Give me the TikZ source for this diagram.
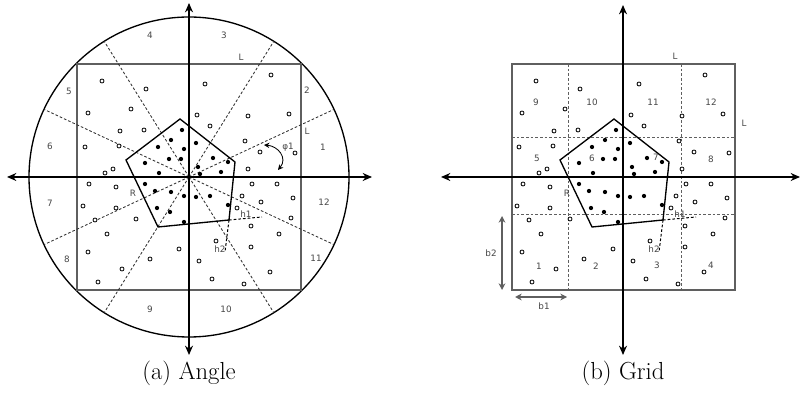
\documentclass[tikz,border=0pt]{standalone}
\usepackage{fontspec}
\newfontfamily\labelfont{DejaVu Sans}
\usepackage{tikz}
\usetikzlibrary{arrows.meta, calc}
\definecolor{frameGray}{RGB}{95, 95, 95}
\definecolor{labelGray}{RGB}{70, 70, 70}
\definecolor{dashGray}{RGB}{50, 50, 50}

% sample points (pixel positions in the left panel)
\newcommand{\emptyPts}{102/81, 146/89, 205/84, 271/75, 88/113, 131/109, 197/115,
  248/116, 289/114, 120/131, 144/130, 210/126, 85/147, 119/146, 245/141, 260/152,
  295/153, 105/173, 113/169, 248/169, 89/184, 116/187, 252/184, 277/184, 83/206,
  116/208, 242/196, 261/202, 293/198, 237/208, 95/220, 136/219, 291/218, 251/226,
  107/234, 279/234, 216/241, 251/247, 88/252, 179/249, 150/259, 199/261, 122/269,
  270/272, 98/282, 212/279, 244/284}
\newcommand{\fullPts}{182/130, 171/140, 158/147, 184/149, 196/143, 169/159, 181/159,
  145/163, 213/158, 228/162, 198/167, 159/173, 200/174, 221/172, 145/184, 155/191,
  171/192, 184/196, 196/197, 210/196, 228/205, 157/208, 170/212, 184/222}

% region, distances and points, shared by both panels
\newcommand{\sampleRegion}[1]{%
  \draw[region] (180,119) -- (235,162) -- (229,220) -- (158,227) -- (126,160) -- cycle;
  \coordinate (#1v) at (229,220);
  \coordinate (#1h1) at (262,217);
  \coordinate (#1h2) at (225,252);
  \draw[dist] (#1v) -- (#1h1);
  \draw[dist] (#1v) -- (#1h2);
  \foreach \px/\py in \emptyPts {\draw[emptypt] (\px,\py) circle (1.5pt);}
  \foreach \px/\py in \fullPts {\fill[fullpt] (\px,\py) circle (1.6pt);}
  \node[lbl] (#1R) at (133,193) {R};
  \node[lbl] (#1hA) at (246,214) {h1};
  \node[lbl] (#1hB) at (220,249) {h2};
}

\begin{document}
\begin{tikzpicture}[
    x=0.75pt, y=-0.75pt,
    axis/.style={line width=1.1pt, -{Stealth[length=7pt, width=6pt]}},
    rim/.style={line width=1pt},
    frame/.style={draw=frameGray, line width=1.1pt},
    sector/.style={draw=dashGray, line width=0.65pt, dash pattern=on 2pt off 1.5pt},
    cell/.style={sector, draw=frameGray},
    region/.style={line width=1pt, line join=miter},
    dist/.style={line width=0.75pt, dash pattern=on 2pt off 1.5pt},
    emptypt/.style={line width=0.6pt, fill=white},
    fullpt/.style={fill=black},
    lbl/.style={font=\labelfont\fontsize{6.6}{8}\selectfont, text=labelGray, inner sep=0pt},
    caption/.style={font=\fontsize{18.5}{22}\selectfont, inner sep=0pt},
    measure/.style={draw=frameGray, line width=0.9pt,
      {Stealth[length=5pt, width=5pt]}-{Stealth[length=5pt, width=5pt]}},
    turn/.style={line width=0.65pt,
      {Stealth[length=4pt, width=4pt]}-{Stealth[length=4pt, width=4pt]}},
  ]
    \useasboundingbox (0,0) rectangle (802,398);

    % (a) Angle
    \coordinate (O) at (189,177);
    \draw[rim] (O) circle (120pt);
    \draw[frame] (77,64) rectangle (301,290);
    \foreach \a in {25,58,122,155,205,238,302,335} {
      \draw[sector] (O) -- ($(O)+(\a:160)$);
    }
    \draw[axis] (O) -- ++(-182,0);
    \draw[axis] (O) -- ++(183,0);
    \draw[axis] (O) -- ++(0,-174);
    \draw[axis] (O) -- ++(0,178);
    \sampleRegion{a}

    \foreach \n/\lx/\ly in {1/323/147, 2/307/90, 3/224/35, 4/150/35, 5/69/91, 6/50/146,
      7/50/203, 8/67/259, 9/150/309, 10/226/309, 11/316/258, 12/324/202} {
      \node[lbl] (sec\n) at (\lx,\ly) {\n};
    }
    \node[lbl] (aLtop) at (241,57) {L};
    \node[lbl] (aLside) at (307,131) {L};

    % rotation angle
    \coordinate (phiA) at (264,145);
    \coordinate (phiB) at (278,170);
    \draw[turn] (phiA) .. controls (278,146) and (288,158) .. (phiB);
    \node[lbl] (phi) at (288,147) {φ1};

    \node[caption] (capA) at (189,373) {(a) Angle};

    % (b) Grid
    \coordinate (G) at (623,177);
    \draw[frame] (512,64) rectangle (735,290);
    \foreach \gx in {568,681} {
      \draw[cell] (\gx,64) -- (\gx,290);
    }
    \foreach \gy in {137,214} {
      \draw[cell] (512,\gy) -- (735,\gy);
    }
    \draw[axis] (G) -- ++(-182,0);
    \draw[axis] (G) -- ++(177,0);
    \draw[axis] (G) -- ++(0,-172);
    \draw[axis] (G) -- ++(0,178);
    \begin{scope}[shift={(434,0)}]
      \sampleRegion{b}
    \end{scope}

    \foreach \n/\lx/\ly in {9/536/102, 10/592/102, 11/653/102, 12/711/102, 5/537/158,
      6/592/158, 7/656/157, 8/711/159, 1/539/266, 2/596/266, 3/657/265, 4/711/265} {
      \node[lbl] (cell\n) at (\lx,\ly) {\n};
    }
    \node[lbl] (bLtop) at (675,56) {L};
    \node[lbl] (bLside) at (744,123) {L};

    % cell sizes
    \coordinate (b2top) at (502,216);
    \coordinate (b2bot) at (502,290);
    \coordinate (b1left) at (515,297);
    \coordinate (b1right) at (567,297);
    \draw[measure] (b2top) -- (b2bot);
    \draw[measure] (b1left) -- (b1right);
    \node[lbl] (b2) at (491,253) {b2};
    \node[lbl] (b1) at (544,306) {b1};

    \node[caption] (capB) at (623,373) {(b) Grid};
  \end{tikzpicture}
\end{document}
